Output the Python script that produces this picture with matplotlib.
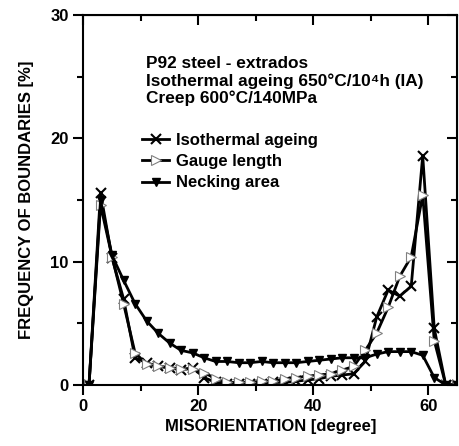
import numpy as np
import matplotlib
matplotlib.use("Agg")
import matplotlib.pyplot as plt

plt.rcParams['font.family'] = ['Liberation Sans', 'DejaVu Sans']
plt.rcParams['font.weight'] = 'bold'

#------------------------------------------------------------------
# data (bins every 2 degrees)
misorientation = list(range(1, 66, 2))

isothermal = [0, 15.6, 10.3, 7.0, 2.2, 1.8, 1.5, 1.4, 1.2, 1.4,
              0.6, 0.2, 0.1, 0.1, 0.1, 0.1, 0.2, 0.2, 0.3, 0.4,
              0.5, 0.7, 0.8, 0.9, 1.9, 5.5, 7.7, 7.2, 8.0, 18.6,
              4.6, 0, 0]

gauge = [0, 14.6, 10.4, 6.6, 2.6, 1.7, 1.5, 1.4, 1.3, 1.3,
         1.0, 0.5, 0.2, 0.2, 0.2, 0.3, 0.3, 0.5, 0.6, 0.7,
         0.8, 0.9, 1.2, 1.5, 2.8, 4.2, 6.3, 8.8, 10.4, 15.4,
         3.6, 0, 0]

necking = [0, 15.0, 10.5, 8.5, 6.6, 5.2, 4.2, 3.4, 2.8, 2.6,
           2.2, 1.9, 1.9, 1.8, 1.8, 1.9, 1.8, 1.8, 1.8, 1.9,
           2.0, 2.1, 2.2, 2.2, 2.2, 2.5, 2.7, 2.7, 2.7, 2.4,
           0.6, 0, 0]

labels = ['Isothermal ageing', 'Gauge length', 'Necking area']
info = 'P92 steel - extrados\nIsothermal ageing 650°C/10⁴h (IA)\nCreep 600°C/140MPa'

#------------------------------------------------------------------
fig = plt.figure(figsize=(4.6, 4.46), dpi=100)
ax = fig.add_axes([0.181, 0.137, 0.813, 0.829])

ax.plot(misorientation, isothermal, color='black', lw=2, marker='x',
        ms=7, mew=1.5, label=labels[0])
ax.plot(misorientation, gauge, color='black', lw=2, marker='>',
        ms=7, mfc='white', mec='gray', mew=0.8, label=labels[1])
ax.plot(misorientation, necking, color='black', lw=2, marker='v',
        ms=6, label=labels[2])

ax.set_xlim(0, 65)
ax.set_ylim(0, 30)
ax.set_xticks([0, 20, 40, 60])
ax.set_xticks([10, 30, 50], minor=True)
ax.set_yticks([0, 10, 20, 30])
ax.set_yticks([5, 15, 25], minor=True)

for s in ax.spines.values():
    s.set_linewidth(1.5)

ax.tick_params(which='major', direction='out', length=7, width=1.5, labelsize=12)
ax.tick_params(which='minor', direction='out', length=4, width=1.5)

# top and right ticks pointing inward
top = ax.secondary_xaxis('top')
top.set_xticks([0, 20, 40, 60])
top.set_xticks([10, 30, 50], minor=True)
top.tick_params(which='major', direction='in', length=7, width=1.5, labeltop=False)
top.tick_params(which='minor', direction='in', length=4, width=1.5)
right = ax.secondary_yaxis('right')
right.set_yticks([0, 10, 20, 30])
right.set_yticks([5, 15, 25], minor=True)
right.tick_params(which='major', direction='in', length=7, width=1.5, labelright=False)
right.tick_params(which='minor', direction='in', length=4, width=1.5)

ax.set_xlabel('MISORIENTATION [degree]', fontsize=12, fontweight='bold', labelpad=3)
ax.set_ylabel('FREQUENCY OF BOUNDARIES [%]', fontsize=12, fontweight='bold', labelpad=12)

ax.text(0.168, 0.889, info, transform=ax.transAxes, fontsize=12.4,
        fontweight='bold', va='top', ha='left', linespacing=1.15)

ax.legend(loc='upper left', bbox_to_anchor=(0.14, 0.70), frameon=False,
          fontsize=12, handlelength=1.6, handletextpad=0.4,
          labelspacing=0.38, borderaxespad=0)

fig.savefig('out.png', dpi=100)
